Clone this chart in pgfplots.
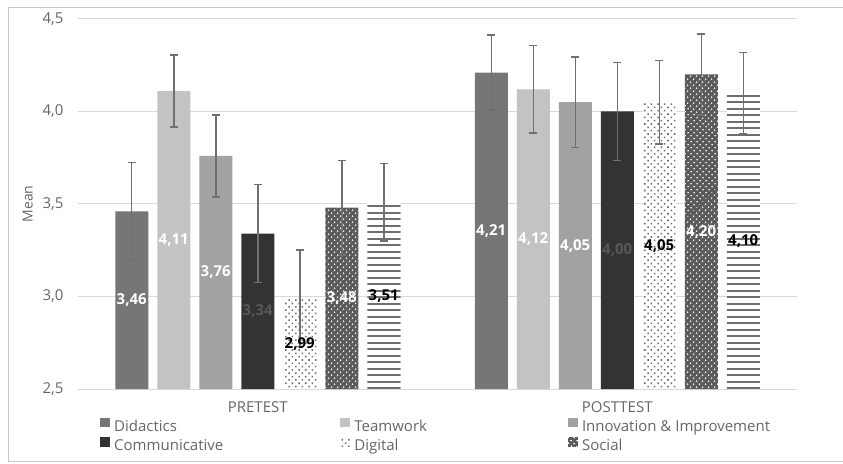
\documentclass[border=0pt]{standalone}
\usepackage{fontspec}
\setmainfont{Open Sans}
\usepackage{pgfplots}
\pgfplotsset{compat=1.18}
\usetikzlibrary{patterns.meta}
\definecolor{cDid}{HTML}{767676}
\definecolor{cTeam}{HTML}{C3C3C3}
\definecolor{cInn}{HTML}{A2A2A2}
\definecolor{cCom}{HTML}{333333}
\definecolor{cDotDark}{HTML}{5A5A5A}
\definecolor{cPat}{HTML}{6E6E6E}
\definecolor{cErr}{HTML}{707070}
\definecolor{cGrid}{HTML}{D9D9D9}
\definecolor{cTxt}{HTML}{666666}
\definecolor{cFrame}{HTML}{C8C8C8}
\definecolor{cLabDim}{HTML}{585858}
\pgfdeclarepattern{
  name=hlines, type=uncolored,
  bottom left={\pgfpoint{-2pt}{0pt}}, top right={\pgfpoint{12pt}{6.5pt}},
  tile size={\pgfpoint{10pt}{6.5pt}},
  code={\pgfsetlinewidth{2pt}\pgfpathmoveto{\pgfpoint{-2pt}{3.25pt}}\pgfpathlineto{\pgfpoint{12pt}{3.25pt}}\pgfusepath{stroke}}}
\pgfplotsset{
  vlab/.style={forget plot, draw=none, mark=none,
    nodes near coords={\pgfmathprintnumber[fixed,fixed zerofill,precision=2,use comma,assume math mode=true]{\pgfplotspointmeta}},
    point meta=explicit,
    every node near coord/.append style={anchor=center, font=\bfseries\fontsize{15}{17}\selectfont, text=#1}},
}
\begin{document}
\begin{tikzpicture}
\path[use as bounding box] (0,0) rectangle (843pt,463pt);
\draw[cFrame, line width=1pt] (8pt,2pt) rectangle (870pt,455pt);
\begin{axis}[
  at={(78pt,74pt)}, anchor=south west,
  scale only axis, width=719pt, height=370pt,
  xmin=-0.5, xmax=1.5, ymin=2.5, ymax=4.5,
  ytick={2.5,3,3.5,4,4.5},
  xtick={0,1}, xticklabels={PRETEST,POSTTEST},
  major tick length=0pt,
  axis line style={draw=none},
  ymajorgrids, grid style={cGrid, line width=1pt},
  /pgf/number format/assume math mode=true,
  y tick label style={/pgf/number format/fixed, /pgf/number format/fixed zerofill, /pgf/number format/precision=1, /pgf/number format/use comma},
  tick label style={font=\fontsize{15}{18}\selectfont, color=cTxt},
  yticklabel style={xshift=-11pt},
  xticklabel style={yshift=-9pt},
  ylabel={Mean}, ylabel shift=3pt,
  ylabel style={font=\fontsize{14}{17}\selectfont, color=cTxt},
  legend columns=3,
  legend cell align=left,
  legend style={draw=none, fill=none, inner sep=0pt,
    at={(0.0306,-0.0765)}, anchor=north west,
    font=\fontsize{15}{18}\selectfont, text=cTxt,
    nodes={inner sep=1pt, text height=12pt, text depth=5pt},
    row sep=0pt,
    /tikz/every odd column/.style={column sep=3pt},
    /tikz/column 2/.style={column sep=116pt},
    /tikz/column 4/.style={column sep=140pt}},
  legend image code/.code={\path[#1] (0pt,0.5pt) rectangle (10pt,10pt);},
  unbounded coords=jump,
]
% bars
\addplot[ybar, bar width=33pt, bar shift=-126pt, fill=cDid, draw=none]
  coordinates {(0,3.46) (1,4.21)};
\addlegendentry{Didactics}
\addplot[ybar, bar width=33pt, bar shift=-84pt, fill=cTeam, draw=none]
  coordinates {(0,4.11) (1,4.12)};
\addlegendentry{Teamwork}
\addplot[ybar, bar width=33pt, bar shift=-42pt, fill=cInn, draw=none]
  coordinates {(0,3.76) (1,4.05)};
\addlegendentry{Innovation \& Improvement}
\addplot[ybar, bar width=33pt, bar shift=0pt, fill=cCom, draw=none]
  coordinates {(0,3.34) (1,4.00)};
\addlegendentry{Communicative}
\addplot[ybar, bar width=33pt, bar shift=42pt, fill=white, draw=none,
  postaction={pattern={Dots[distance=4.7pt, radius=1.1pt, angle=45]}, pattern color=cPat}]
  coordinates {(0,2.99) (1,4.05)};
\addlegendentry{Digital}
\addplot[ybar, bar width=33pt, bar shift=84pt, fill=cDotDark, draw=none,
  postaction={pattern={Dots[distance=4pt, radius=0.9pt, angle=45]}, pattern color=white}]
  coordinates {(0,3.48) (1,4.20)};
\addlegendentry{Social}
\addplot[ybar, bar width=33pt, bar shift=126pt, fill=white, draw=none, forget plot,
  postaction={pattern=hlines, pattern color=cPat}]
  coordinates {(0,3.51) (1,4.10)};
% error bars: low and high ends (x at bar centres: 42pt = 0.11683 axis units)
\addplot[forget plot, cErr, line width=1.5pt, mark=-, mark size=4pt, mark options={solid, line width=1.5pt}]
  coordinates {
  (-0.35049,3.195) (-0.35049,3.725) (-0.35049,nan)
  (-0.23366,3.915) (-0.23366,4.305) (-0.23366,nan)
  (-0.11683,3.538) (-0.11683,3.982) (-0.11683,nan)
  (0,3.075) (0,3.605) (0,nan)
  (0.11683,2.73) (0.11683,3.25) (0.11683,nan)
  (0.23366,3.224) (0.23366,3.736) (0.23366,nan)
  (0.35049,3.30) (0.35049,3.72) (0.35049,nan)
  (0.64951,4.007) (0.64951,4.413) (0.64951,nan)
  (0.76634,3.884) (0.76634,4.356) (0.76634,nan)
  (0.88317,3.805) (0.88317,4.295) (0.88317,nan)
  (1,3.734) (1,4.266) (1,nan)
  (1.11683,3.824) (1.11683,4.276) (1.11683,nan)
  (1.23366,3.98) (1.23366,4.42) (1.23366,nan)
  (1.35049,3.882) (1.35049,4.318)};
% value labels at bar centres
\addplot[vlab=white, every node near coord/.append style={xshift=-126pt}]
  coordinates {(0,2.98)[3.46] (1,3.355)[4.21]};
\addplot[vlab=white, every node near coord/.append style={xshift=-84pt}]
  coordinates {(0,3.305)[4.11] (1,3.31)[4.12]};
\addplot[vlab=white, every node near coord/.append style={xshift=-42pt}]
  coordinates {(0,3.13)[3.76] (1,3.275)[4.05]};
\addplot[vlab=cLabDim, every node near coord/.append style={xshift=0pt}]
  coordinates {(0,2.92)[3.34] (1,3.25)[4.00]};
\addplot[vlab=black, every node near coord/.append style={xshift=42pt}]
  coordinates {(0,2.745)[2.99] (1,3.275)[4.05]};
\addplot[vlab=white, every node near coord/.append style={xshift=84pt}]
  coordinates {(0,2.99)[3.48] (1,3.35)[4.20]};
\addplot[vlab=black, every node near coord/.append style={xshift=126pt}]
  coordinates {(0,3.005)[3.51] (1,3.30)[4.10]};
\end{axis}
\end{tikzpicture}
\end{document}
